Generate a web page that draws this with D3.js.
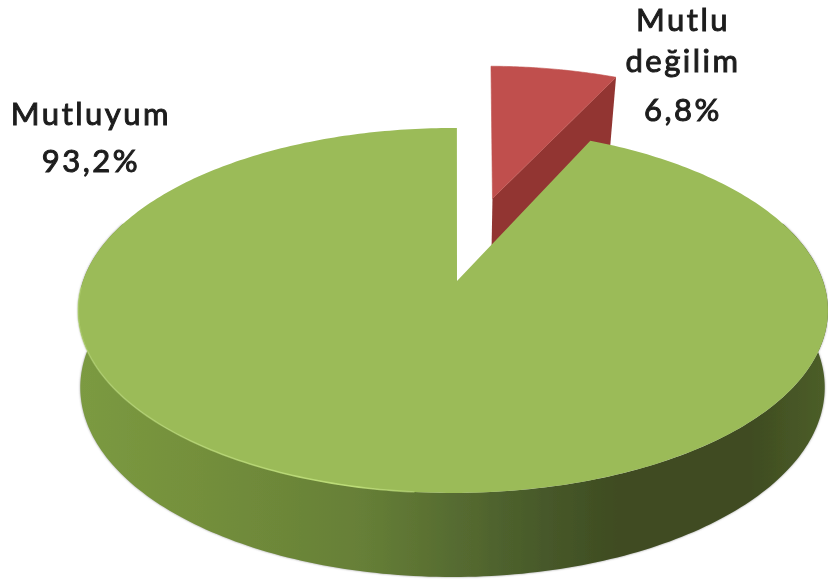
<!DOCTYPE html>
<html><head><meta charset="utf-8">
<script src="https://cdn.jsdelivr.net/npm/d3@7"></script>
<style>html,body{margin:0;padding:0;background:#fff}svg{display:block}
text{font-family:Lato,sans-serif;font-weight:400;font-size:31px;letter-spacing:2.5px;fill:#1c1c1c;stroke:#1c1c1c;stroke-width:1px;text-anchor:middle}</style>
</head><body><div id="c"></div>
<script>
const categories = ["Mutlu değilim", "Mutluyum"];
const shares = [6.8, 93.2];
const colors = ["#c0504d", "#9bbb59"];
const wallRed = "#923633";
const labelLines = [["Mutlu", "değilim", "6,8%"], ["Mutluyum", "93,2%"]];
const labelBaselines = [[31, 72, 121], [125, 172]];
const labelCenters = [683, 91];
const wallStops = [[0, "#7b9a42"], [.12, "#76923c"], [.38, "#667f37"], [.62, "#47592a"], [.72, "#3f4c21"], [.9, "#3f4c21"], [1, "#4c5e29"]];

const W = 828, H = 586;
const svg = d3.select("#c").append("svg").attr("width", W).attr("height", H);
const defs = svg.append("defs");
const g = defs.append("linearGradient").attr("id", "wall").attr("gradientUnits", "userSpaceOnUse")
  .attr("x1", 80).attr("x2", 826).attr("y1", 0).attr("y2", 0);
wallStops.forEach(s => g.append("stop").attr("offset", s[0]).attr("stop-color", s[1]));
defs.append("filter").attr("id", "b2").attr("x", "-20%").attr("width", "140%").append("feGaussianBlur").attr("stdDeviation", 1.3);
defs.append("filter").attr("id", "b0").append("feGaussianBlur").attr("stdDeviation", .4);
const rimG = defs.append("linearGradient").attr("id", "rim").attr("gradientUnits", "userSpaceOnUse")
  .attr("x1", 80).attr("x2", 470).attr("y1", 0).attr("y2", 0);
rimG.append("stop").attr("offset", 0).attr("stop-color", "#b9d978").attr("stop-opacity", .5);
rimG.append("stop").attr("offset", .7).attr("stop-color", "#bddd78").attr("stop-opacity", 1);
rimG.append("stop").attr("offset", 1).attr("stop-color", "#bddd78").attr("stop-opacity", 0);

// Perspective projection of the pie plane (u right, v far) to the screen.
const upper = { x0: 453, d: 370, c: .1616, a: -132.3, b: 281 };
const lower = { x0: 452.5, d: 366, c: .182, a: -119, b: 353 };
const proj = (p, u, v) => [p.x0 + p.d * u / (1 + p.c * v), (p.a * v + p.b) / (1 + p.c * v)];

const rot = 0.7 * Math.PI / 180;
const arcs = d3.pie().sort(null).value(d => d).startAngle(rot).endAngle(rot + 2 * Math.PI)(shares);
const [redArc, greenArc] = arcs;
const rimUV = (a, o) => [Math.sin(a) + o[0], Math.cos(a) + o[1]];
const sample = (a0, a1, n = 160) => d3.range(n + 1).map(i => a0 + (a1 - a0) * i / n);
const line = d3.line();

// Red slice, pulled out along its mid-angle
const mid = (redArc.startAngle + redArc.endAngle) / 2;
const pull = .515;
const off = [pull * Math.sin(mid), pull * Math.cos(mid)];
const endUV = rimUV(redArc.endAngle, off);
const redTop = [proj(upper, ...off), ...sample(redArc.startAngle, redArc.endAngle, 40).map(a => proj(upper, ...rimUV(a, off)))];
const redStartRim = proj(upper, ...rimUV(redArc.startAngle, off));
const redApex = proj(upper, ...off);
// soft grey edge left of the red slice
svg.append("path").attr("filter", "url(#b2)").attr("stroke", "#8c8c8c").attr("stroke-width", 2.5).attr("fill", "none")
  .attr("d", line([[redApex[0] - 2.5, (redStartRim[1] + redApex[1]) / 2], [redApex[0] - 2.5, redApex[1] + 40]]));
const redG = svg.append("g").attr("filter", "url(#b0)");
redG.append("path").attr("fill", wallRed).attr("d", line([
  proj(upper, ...off), proj(upper, ...endUV), proj(lower, ...endUV), proj(lower, ...off)]) + "Z");
redG.append("path").attr("fill", colors[0]).attr("stroke", colors[0]).attr("stroke-width", .6).attr("d", line(redTop) + "Z");

// Green slice wall
const o0 = [0, 0];
const front = sample(70 * Math.PI / 180, 290 * Math.PI / 180, 220);
const wallPts = [...front.map(a => proj(upper, ...rimUV(a, o0))), ...front.slice().reverse().map(a => proj(lower, ...rimUV(a, o0)))];
svg.append("path").attr("fill", "#9a9a9a").attr("filter", "url(#b2)").attr("d", line(wallPts) + "Z");
svg.append("path").attr("fill", "url(#wall)").attr("filter", "url(#b0)").attr("d", line(wallPts) + "Z");

// Green top
const apex = [457, 281];
const greenRim = sample(greenArc.startAngle, greenArc.endAngle, 360).map(a => proj(upper, ...rimUV(a, o0)));
const startRim = greenRim[greenRim.length - 1];
svg.append("path").attr("filter", "url(#b2)").attr("stroke", "#a0a0a0").attr("stroke-width", 2.5).attr("fill", "none")
  .attr("d", line([[apex[0] + 2, apex[1] - 4], [apex[0] + 2, (apex[1] + startRim[1]) / 2 - 10]]));
svg.append("path").attr("fill", colors[1]).attr("filter", "url(#b0)").attr("d", line([apex, ...greenRim]) + "Z");

// Highlight on the lower left rim
svg.append("path").attr("fill", "none").attr("stroke", "url(#rim)").attr("stroke-width", 1.6).attr("filter", "url(#b0)")
  .attr("d", line(sample(185 * Math.PI / 180, 268 * Math.PI / 180, 90).map(a => proj(upper, ...rimUV(a, o0)))));

// Labels
labelLines.forEach((lines, i) => lines.forEach((t, j) => {
  svg.append("text").attr("x", labelCenters[i]).attr("y", labelBaselines[i][j]).attr("filter", "url(#b0)").text(t);
}));
</script></body></html>
